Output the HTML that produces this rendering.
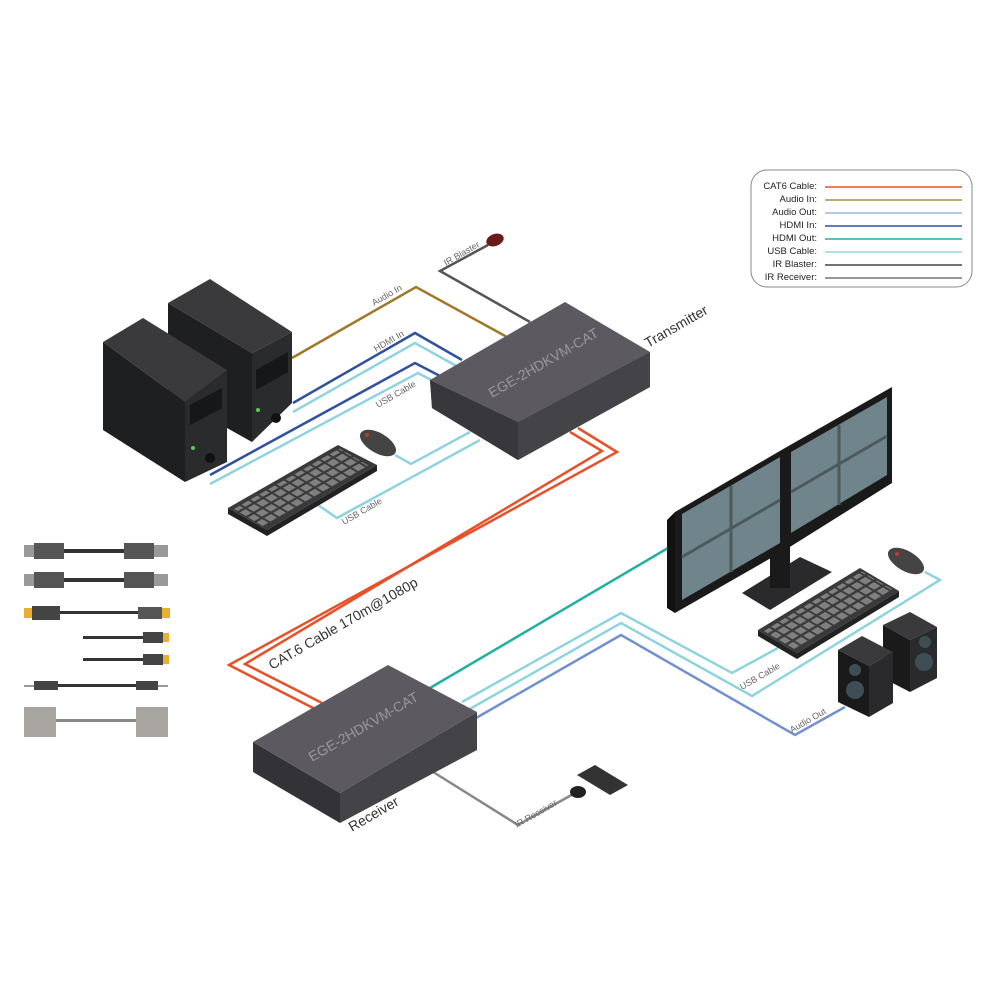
<!DOCTYPE html>
<html><head><meta charset="utf-8"><style>
html,body{margin:0;padding:0;background:#fff;}
svg{display:block;font-family:"Liberation Sans",sans-serif;}
</style></head><body>
<svg width="1000" height="1000" viewBox="0 0 1000 1000" xmlns="http://www.w3.org/2000/svg">
<defs>
<pattern id="keys" x="0" y="0" width="8" height="4.5" patternUnits="userSpaceOnUse">
<rect x="1" y="0.7" width="6.2" height="3.3" fill="#808080"/>
</pattern>
</defs>
<rect width="1000" height="1000" fill="#fff"/>

<!-- Legend -->
<rect x="751" y="170" width="221" height="117" rx="16" fill="#fff" stroke="#888" stroke-width="1"/>
<g font-size="9.5" fill="#222" text-anchor="end">
<text x="817" y="189">CAT6 Cable:</text>
<text x="817" y="202">Audio In:</text>
<text x="817" y="215">Audio Out:</text>
<text x="817" y="228">HDMI In:</text>
<text x="817" y="241">HDMI Out:</text>
<text x="817" y="254">USB Cable:</text>
<text x="817" y="267">IR Blaster:</text>
<text x="817" y="280">IR Receiver:</text>
</g>
<g stroke-width="1.5">
<line x1="825" y1="187" x2="962" y2="187" stroke="#e8502a"/>
<line x1="825" y1="200" x2="962" y2="200" stroke="#b08a50"/>
<line x1="825" y1="213" x2="962" y2="213" stroke="#9fb4e0"/>
<line x1="825" y1="226" x2="962" y2="226" stroke="#3050a0"/>
<line x1="825" y1="239" x2="962" y2="239" stroke="#20b0a0"/>
<line x1="825" y1="252" x2="962" y2="252" stroke="#90d8e4"/>
<line x1="825" y1="265" x2="962" y2="265" stroke="#444"/>
<line x1="825" y1="278" x2="962" y2="278" stroke="#777"/>
</g>

<!-- Cables -->
<g fill="none" stroke-width="2.5">
<polyline points="292,358 416,287 507,337" stroke="#a07828"/>
<polyline points="488,245 440,271 530,322" stroke="#555"/>
<polyline points="293,403 415,333 462,360" stroke="#3050a0"/>
<polyline points="293,412 415,343 460,368" stroke="#8fd3e0"/>
<polyline points="210,475 415,363 440,376" stroke="#3050a0"/>
<polyline points="210,484 418,373 435,382" stroke="#8fd3e0"/>
<polyline points="395,455 411,464 470,432" stroke="#8fd3e0"/>
<polyline points="318,505 337,518 480,440" stroke="#8fd3e0"/>
<polyline points="578,428 617,452 229,665 317,710" stroke="#e8502a"/>
<polyline points="570,432 602,451 245,664 322,703" stroke="#e8502a"/>
<polyline points="430,688 668,548" stroke="#20b0a0"/>
<polyline points="462,702 621,613 732,673 778,648" stroke="#8fd3e0"/>
<polyline points="468,710 621,623 752,696 940,580 925,572" stroke="#8fd3e0"/>
<polyline points="476,718 621,635 795,735 845,707" stroke="#7090d0"/>
<polyline points="430,770 518,825 575,793" stroke="#888"/>
</g>

<!-- cable labels -->
<g font-size="9" fill="#666">
<text transform="translate(374,306) rotate(-30)">Audio In</text>
<text transform="translate(376,352) rotate(-30)">HDMI In</text>
<text transform="translate(378,408) rotate(-30)">USB Cable</text>
<text transform="translate(344,525) rotate(-30)">USB Cable</text>
<text transform="translate(446,266) rotate(-30)">IR Blaster</text>
<text transform="translate(742,690) rotate(-30)">USB Cable</text>
<text transform="translate(792,733) rotate(-30)">Audio Out</text>
<text transform="translate(517,828) rotate(-30)">IR Receiver</text>
</g>
<text transform="translate(272,670) rotate(-30)" font-size="14" fill="#333">CAT.6 Cable 170m@1080p</text>
<text transform="translate(648,348) rotate(-30)" font-size="14" fill="#333">Transmitter</text>
<text transform="translate(352,832) rotate(-30)" font-size="14" fill="#333">Receiver</text>

<!-- IR blaster -->
<ellipse cx="495" cy="240" rx="9" ry="6" fill="#6a1a1a" transform="rotate(-20 495 240)"/>

<!-- Transmitter -->
<polygon points="432,408 518,460 650,387 650,352 518,422 430,380" fill="#2a2a2e"/>
<polygon points="430,380 518,422 518,460 432,408" fill="#38383c"/>
<polygon points="518,422 650,352 650,387 518,460" fill="#444448"/>
<polygon points="430,380 565,302 650,352 518,422" fill="#5c5a60"/>
<text transform="translate(492,398) rotate(-30)" font-size="14" fill="#9a989e">EGE-2HDKVM-CAT</text>

<!-- Receiver -->
<polygon points="253,742 340,793 340,823 253,772" fill="#333337"/>
<polygon points="340,793 477,712 477,750 340,823" fill="#444448"/>
<polygon points="253,742 388,665 477,712 340,793" fill="#5c5a60"/>
<text transform="translate(312,762) rotate(-30)" font-size="14" fill="#9a989e">EGE-2HDKVM-CAT</text>

<!-- PC2 (back) -->
<polygon points="168,303 252,353 252,442 168,395" fill="#1e1f21"/>
<polygon points="252,353 292,332 292,403 252,442" fill="#2a2b2d"/>
<polygon points="168,303 210,279 292,332 252,353" fill="#3a3a3c"/>
<polygon points="256,370 288,352 288,372 256,390" fill="#161718"/>
<circle cx="276" cy="418" r="5" fill="#111"/>
<!-- PC1 -->
<polygon points="103,342 185,402 185,482 103,430" fill="#1e1f21"/>
<polygon points="185,402 227,370 227,462 185,482" fill="#2a2b2d"/>
<polygon points="103,342 143,318 227,370 185,402" fill="#3a3a3c"/>
<polygon points="190,405 222,388 222,408 190,425" fill="#161718"/>
<circle cx="210" cy="458" r="5" fill="#111"/>
<circle cx="193" cy="448" r="2" fill="#5c5"/>
<circle cx="258" cy="410" r="2" fill="#5c5"/>

<!-- keyboard left -->
<polygon points="228,508 267,530 377,465 377,471 267,536 228,514" fill="#222"/>
<polygon points="228,508 338,445 377,465 267,530" fill="#3a3a3c"/>
<g transform="matrix(1.1,-0.63,1.85,1.1,228,508)">
<rect x="2" y="2" width="96" height="16" fill="url(#keys)"/>
</g>
<!-- mouse left -->
<ellipse cx="378" cy="443" rx="20" ry="10" fill="#444" transform="rotate(30 378 443)"/>
<circle cx="367" cy="435" r="2" fill="#c33"/>

<!-- Monitors -->
<polygon points="742,593 800,557 832,572 770,610" fill="#2a2a2c"/>
<rect x="770" y="540" width="20" height="48" fill="#1a1a1a"/>
<polygon points="667,520 675,512 675,613 667,608" fill="#111"/>
<polygon points="675,512 785,448 785,550 675,613" fill="#1a1a1a"/>
<polygon points="682,514 780,457 780,543 682,600" fill="#6f858b"/>
<polygon points="785,448 892,387 892,483 785,550" fill="#1a1a1a"/>
<polygon points="791,452 887,397 887,475 791,533" fill="#6f858b"/>
<g stroke="#4c5a5e" stroke-width="3">
<line x1="731" y1="486" x2="731" y2="572"/><line x1="682" y1="557" x2="780" y2="500"/>
<line x1="839" y1="425" x2="839" y2="505"/><line x1="791" y1="492" x2="887" y2="436"/>
</g>
<!-- right keyboard -->
<polygon points="758,630 797,653 899,591 899,597 797,659 758,636" fill="#222"/>
<polygon points="758,630 860,568 899,591 797,653" fill="#3a3a3c"/>
<g transform="matrix(1.02,-0.62,1.95,1.15,758,630)">
<rect x="2" y="2" width="96" height="16" fill="url(#keys)"/>
</g>
<ellipse cx="906" cy="561" rx="20" ry="10" fill="#444" transform="rotate(30 906 561)"/>
<circle cx="897" cy="554" r="2" fill="#c33"/>

<!-- speakers -->
<polygon points="883,625 910,612 937,627 910,640" fill="#3a3a3c"/>
<polygon points="883,625 910,640 910,692 883,678" fill="#1a1a1a"/>
<polygon points="910,640 937,627 937,678 910,692" fill="#2a2a2c"/>
<polygon points="838,650 862,636 893,652 869,666" fill="#3a3a3c"/>
<polygon points="838,650 869,666 869,717 838,702" fill="#1a1a1a"/>
<polygon points="869,666 893,652 893,703 869,717" fill="#2a2a2c"/>
<circle cx="855" cy="670" r="6" fill="#3f4e55"/><circle cx="855" cy="690" r="9" fill="#3f4e55"/>
<circle cx="925" cy="642" r="6" fill="#3f4e55"/><circle cx="924" cy="662" r="9" fill="#3f4e55"/>

<!-- remote + IR receiver -->
<polygon points="577,775 595,765 628,785 610,795" fill="#333"/>
<ellipse cx="578" cy="792" rx="8" ry="6" fill="#222"/>

<!-- Cables icons left -->
<g>
<rect x="24" y="545" width="10" height="12" fill="#999"/><rect x="34" y="543" width="30" height="16" fill="#555"/>
<rect x="64" y="549" width="60" height="4" fill="#333"/><rect x="124" y="543" width="30" height="16" fill="#555"/><rect x="154" y="545" width="14" height="12" fill="#999"/>
<rect x="24" y="574" width="10" height="12" fill="#999"/><rect x="34" y="572" width="30" height="16" fill="#555"/>
<rect x="64" y="578" width="60" height="4" fill="#333"/><rect x="124" y="572" width="30" height="16" fill="#555"/><rect x="154" y="574" width="14" height="12" fill="#999"/>
<rect x="24" y="608" width="8" height="10" fill="#e8b030"/><rect x="32" y="606" width="28" height="14" fill="#444"/>
<rect x="60" y="611" width="78" height="3" fill="#333"/><rect x="138" y="607" width="24" height="12" fill="#555"/><rect x="162" y="608" width="8" height="10" fill="#e8b030"/>
<rect x="83" y="636" width="60" height="3" fill="#333"/><rect x="143" y="632" width="20" height="11" fill="#444"/><rect x="163" y="633" width="6" height="9" fill="#e8b030"/>
<rect x="83" y="658" width="60" height="3" fill="#333"/><rect x="143" y="654" width="20" height="11" fill="#444"/><rect x="163" y="655" width="6" height="9" fill="#e8b030"/>
<rect x="24" y="685" width="10" height="2" fill="#999"/><rect x="34" y="681" width="24" height="9" fill="#444"/>
<rect x="58" y="684" width="78" height="3" fill="#333"/><rect x="136" y="681" width="22" height="9" fill="#444"/><rect x="158" y="685" width="10" height="2" fill="#999"/>
<rect x="24" y="707" width="32" height="30" fill="#a8a4a0"/><rect x="56" y="719" width="80" height="3" fill="#888"/><rect x="136" y="707" width="32" height="30" fill="#a8a4a0"/>
</g>
</svg>
</body></html>
